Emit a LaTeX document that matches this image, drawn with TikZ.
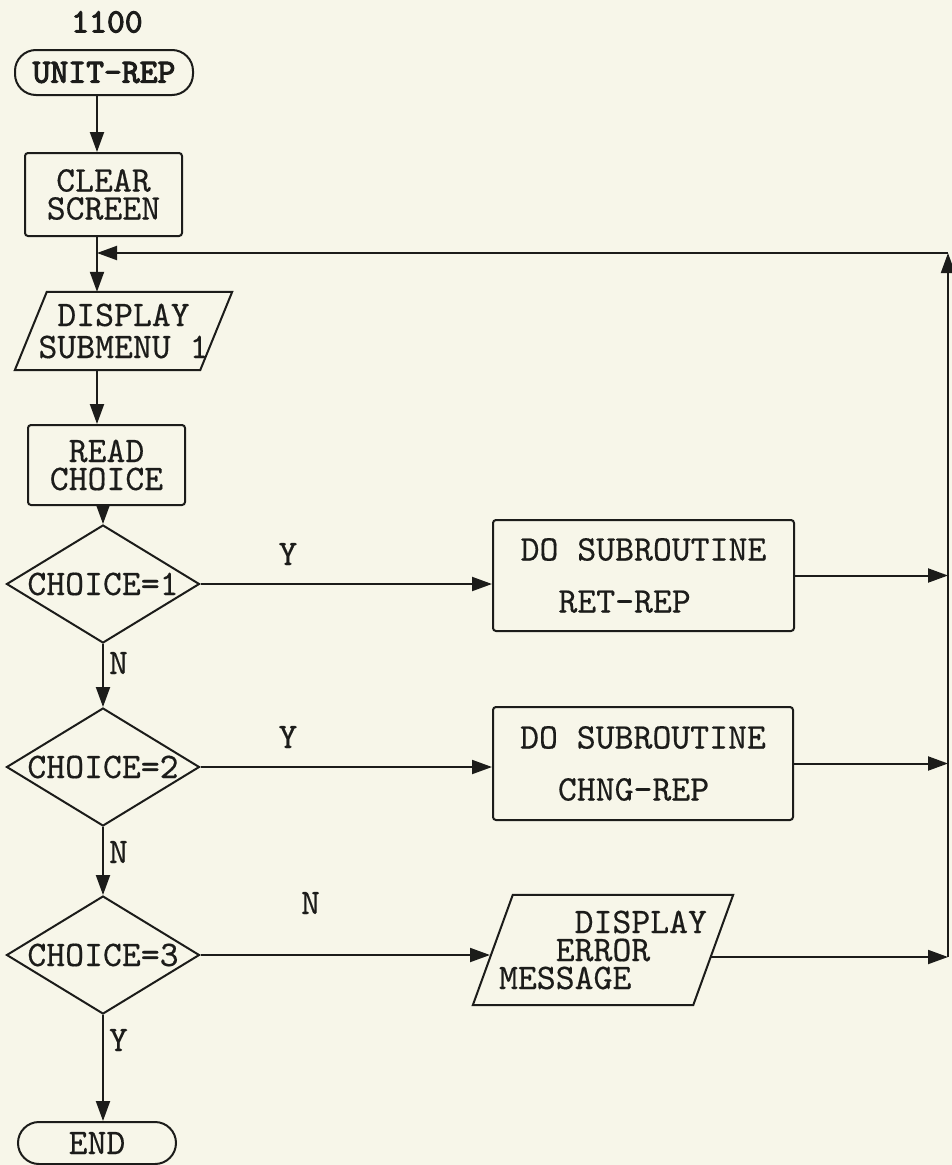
\documentclass[tikz,border=0pt]{standalone}
\usepackage{fontspec}
\newfontfamily\twr[FakeBold=0.4]{lmmono10-regular.otf}
\newfontfamily\twb[FakeBold=3]{lmmono10-regular.otf}
\usetikzlibrary{arrows.meta,shapes.geometric,calc}
\definecolor{paper}{RGB}{247,246,233}
\definecolor{ink}{RGB}{28,28,26}
\begin{document}
\begin{tikzpicture}[x=1pt,y=-1pt,
  txt/.style={font=\twr\fontsize{36}{28}\selectfont, text=ink},
  boldtxt/.style={font=\twb\fontsize{34}{28}\selectfont, text=ink},
  shp/.style={draw=ink, line width=2pt},
  proc/.style={txt, shp, rectangle, rounded corners=3pt, inner sep=0pt, align=center},
  term/.style={shp, rectangle, rounded corners=21pt, inner sep=0pt},
  dec/.style={txt, shp, diamond, aspect=1.636, inner sep=0pt, minimum width=193pt, minimum height=118pt},
  io/.style={txt, rectangle, inner sep=0pt},
  lbl/.style={txt, inner sep=0pt},
  arr/.style={draw=ink, line width=2pt, -{Triangle[length=20pt,width=14pt]}},
  ln/.style={draw=ink, line width=2pt}]
\fill[paper] (0,0) rectangle (952,1165);
\useasboundingbox (0,0) rectangle (952,1165);

% left column
\node[boldtxt, inner sep=0pt] (num) at (107,22) {1100};
\node[term, boldtxt, minimum width=178pt, minimum height=45pt] (unit) at (104,72.5) {UNIT-REP};
\node[proc, minimum width=157pt, minimum height=83pt] (clear) at (103.5,194.5) {CLEAR\\SCREEN};
\coordinate (j) at (97,253);
\node[io, align=center, minimum width=217pt, minimum height=78pt] (disp) at (123.5,331) {DISPLAY\\[4pt]SUBMENU 1};
\draw[shp] (disp.south west) -- ($(disp.south east)+(-32,0)$) -- (disp.north east) -- ($(disp.north west)+(32,0)$) -- cycle;
\node[proc, minimum width=157pt, minimum height=80pt] (read) at (106.5,465) {READ\\CHOICE};
\node[dec] (d1) at (103,584) {CHOICE=1};
\node[dec] (d2) at (103,767) {CHOICE=2};
\node[dec] (d3) at (103,955) {CHOICE=3};
\node[term, txt, minimum width=158pt, minimum height=42pt] (end) at (97,1143) {END};

% right column
\node[proc, align=left, minimum width=301pt, minimum height=111pt] (ret) at (643.5,575.5) {DO SUBROUTINE\\[24pt]\phantom{XX}RET-REP};
\node[proc, align=left, minimum width=300pt, minimum height=113pt] (chng) at (643,763.5) {DO SUBROUTINE\\[24pt]\phantom{XX}CHNG-REP};
\node[io, align=left, minimum width=260pt, minimum height=110pt] (err) at (603,950) {\phantom{XXXX}DISPLAY\\\phantom{XXX}ERROR\\MESSAGE};
\draw[shp] (err.south west) -- ($(err.south east)+(-40,0)$) -- (err.north east) -- ($(err.north west)+(40,0)$) -- cycle;
\coordinate (errL) at (490,955);
\coordinate (errR) at (711,957);

\coordinate (top) at (948,253);
\coordinate (bot) at (948,957);

% connectors main spine
\draw[arr] (unit.south -| j) -- (clear.north -| j);
\draw[arr] (clear.south -| j) -- (disp.north -| j);
\draw[arr] (disp.south -| j) -- (read.north -| j);
\draw[arr] (read.south -| d1.north) -- (d1.north);
\draw[arr] (d1.south) -- (d2.north) node[lbl, pos=0, anchor=north west, xshift=5pt, yshift=-7pt] {N};
\draw[arr] (d2.south) -- (d3.north) node[lbl, pos=0, anchor=north west, xshift=5pt, yshift=-13pt] {N};
\draw[arr] (d3.south) -- (d3.south |- end.north) node[lbl, pos=0, anchor=north west, xshift=5pt, yshift=-13pt] {Y};

% branches
\draw[arr] (d1.east) -- (ret.west |- d1.east) node[lbl, pos=0.3, above=18pt] {Y};
\draw[arr] (d2.east) -- (chng.west |- d2.east) node[lbl, pos=0.3, above=18pt] {Y};
\draw[arr] (d3.east) -- (errL) node[lbl, pos=0.38, above=40pt] {N};

% returns
\draw[arr] (ret.east) -- (ret.east -| top);
\draw[arr] (chng.east) -- (chng.east -| top);
\draw[arr] (errR) -- (bot);
\draw[arr] (bot) -- (top);
\draw[arr] (top) -- (j);
\end{tikzpicture}
\end{document}
